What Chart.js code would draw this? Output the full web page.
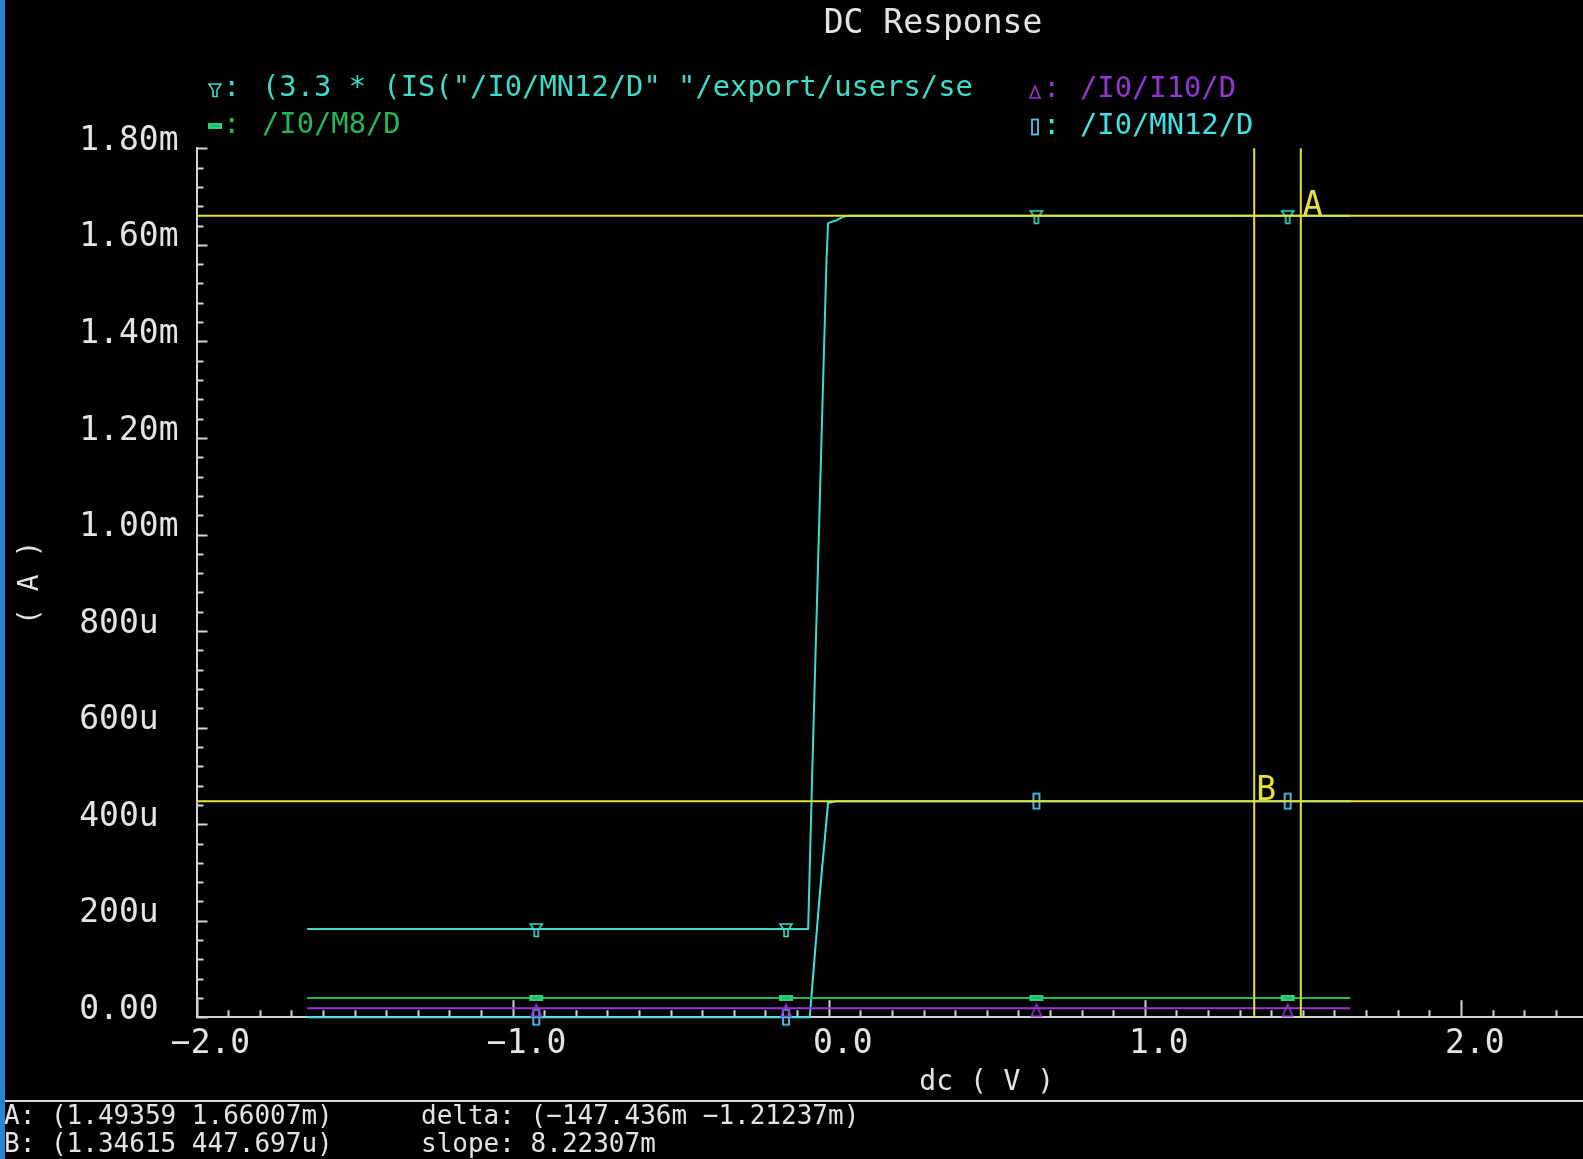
<!DOCTYPE html>
<html>
<head>
<meta charset="utf-8">
<title>DC Response</title>
<script src="https://cdn.jsdelivr.net/npm/chart.js@4.4.1/dist/chart.umd.min.js"></script>
<style>
  html, body { margin: 0; padding: 0; background: #000; overflow: hidden; }
  #frame { position: relative; width: 1583px; height: 1159px; overflow: hidden; background: #000; }
  #frame::before { content: ''; position: absolute; left: 0; top: 0; width: 5px; height: 100%; background: #2f7fd8; z-index: 2; }
  #plot { position: absolute; left: 0; top: 0; }
</style>
</head>
<body>
<div id="frame"><canvas id="plot" width="1777" height="1159"></canvas></div>
<script>
// ---- sweep (V) and drain currents (A) for each trace ----
const triX  = [-1.65, -0.925, -0.135, -0.065, -0.051, -0.007, -0.002, 0.025, 0.045, 0.06, 0.657, 1.452, 1.65];
const triY  = [0.000183, 0.000183, 0.000183, 0.000183, 0.000533, 0.001568, 0.001645, 0.001651, 0.001658, 0.00166007, 0.00166007, 0.00166007, 0.00166007];
const m8X   = [-1.65, -0.925, -0.135, 0.657, 1.452, 1.65];
const m8Y   = [0.0000400, 0.0000400, 0.0000400, 0.0000400, 0.0000400, 0.0000400];
const i10X  = [-1.65, -0.925, -0.135, 0.657, 1.452, 1.65];
const i10Y  = [0.0000186, 0.0000186, 0.0000186, 0.0000186, 0.0000186, 0.0000186];
const mn12X = [-1.65, -0.925, -0.135, -0.06, -0.041, -0.028, -0.002, 0.025, 0.657, 1.452, 1.65];
const mn12Y = [0, 0, 0, 0, 0.000153, 0.000257, 0.000444, 0.000447697, 0.000447697, 0.000447697, 0.000447697];

// sweep points that carry a trace symbol
const markerX = [-0.925, -0.135, 0.657, 1.452];

// axis ticks
const xTickValues = [-2, -1, 0, 1, 2];
const xTickLabels = ['\u22122.0', '\u22121.0', '0.0', '1.0', '2.0'];
const yTickValues = [0, 0.0002, 0.0004, 0.0006, 0.0008, 0.0010, 0.0012, 0.0014, 0.0016, 0.0018];
const yTickLabels = ['0.00', '200u', '400u', '600u', '800u', '1.00m', '1.20m', '1.40m', '1.60m', '1.80m'];

// cursors [x (V), y (A)]
const cursorA = [1.49359, 0.00166007];
const cursorB = [1.34615, 0.000447697];
const readoutLeft  = ['A: (1.49359 1.66007m)', 'B: (1.34615 447.697u)'];
const readoutRight = ['delta: (\u2212147.436m \u22121.21237m)', 'slope: 8.22307m'];

const traceLabels = [
  '(3.3 * (IS("/I0/MN12/D" "/export/users/se',
  '/I0/M8/D',
  '/I0/I10/D',
  '/I0/MN12/D'
];

// ---- styling ----
const FONT = "'DejaVu Sans Mono', monospace";
const C_TRI = '#3cdcc8';
const C_M8 = '#22b85a';
const C_I10 = '#9636d2';
const C_MN12 = '#40e2e2';
const C_CURSOR = '#e2e23a';
const C_AXIS = '#d4d4d4';
const C_TEXT = '#e4e4e4';

function glyph(w, h, paint) {
  const c = document.createElement('canvas');
  c.width = w; c.height = h;
  const g = c.getContext('2d');
  g.translate(w / 2, h / 2);
  paint(g);
  return c;
}
const symTri = glyph(18, 20, g => {
  g.strokeStyle = C_TRI; g.lineWidth = 1.6;
  g.beginPath();
  g.moveTo(-6, -5); g.lineTo(6, -5); g.lineTo(2, 1); g.lineTo(2, 7.5);
  g.lineTo(-2, 7.5); g.lineTo(-2, 1); g.closePath(); g.stroke();
});
const symM8 = glyph(18, 10, g => {
  g.fillStyle = '#2ccf78';
  g.fillRect(-7, -3, 14, 6);
  g.fillStyle = '#1a9e55';
  g.fillRect(-4, -0.5, 8, 1);
});
const symI10 = glyph(16, 22, g => {
  g.strokeStyle = C_I10; g.lineWidth = 1.6;
  g.beginPath();
  g.moveTo(0, -4); g.lineTo(5, 8); g.lineTo(-5, 8); g.closePath(); g.stroke();
});
const symMN12 = glyph(12, 20, g => {
  g.strokeStyle = '#58c4f4'; g.lineWidth = 1.8;
  g.strokeRect(-3, -7.5, 6, 15);
});

const pairs = (xs, ys) => xs.map((x, i) => ({ x, y: ys[i] }));
const markerRadius = ctx => (ctx.raw && markerX.includes(ctx.raw.x)) ? 5 : 0;

function trace(label, xs, ys, color, sym) {
  return {
    label, data: pairs(xs, ys),
    borderColor: color, backgroundColor: color, borderWidth: 2,
    tension: 0, fill: false, clip: false,
    pointStyle: sym, pointRadius: markerRadius, pointHoverRadius: 0
  };
}

// tick marks drawn inward from both axes
const axisMarks = {
  id: 'axisMarks',
  beforeDatasetsDraw(chart) {
    const { ctx, chartArea: a, scales: { x, y } } = chart;
    ctx.save();
    ctx.strokeStyle = C_AXIS; ctx.lineWidth = 2;
    ctx.beginPath();
    for (let k = 0; k <= 45; k++) {
      const py = Math.round(y.getPixelForValue(k * 0.00004)) + 0.5;
      const len = k % 5 === 0 ? 11 : 7;
      ctx.moveTo(a.left, py); ctx.lineTo(a.left + len, py);
    }
    for (let k = -20; k <= 30; k++) {
      const px = Math.round(x.getPixelForValue(k / 10)) + 0.5;
      const len = k % 10 === 0 ? 17 : 7;
      ctx.moveTo(px, a.bottom); ctx.lineTo(px, a.bottom - len);
    }
    ctx.stroke();
    ctx.restore();
  }
};

// A / B cursors
const cursorLines = {
  id: 'cursorLines',
  afterDatasetsDraw(chart) {
    const { ctx, chartArea: a, scales: { x, y } } = chart;
    ctx.save();
    ctx.strokeStyle = C_CURSOR; ctx.lineWidth = 2;
    ctx.fillStyle = C_CURSOR;
    ctx.font = '33px ' + FONT;
    ctx.textAlign = 'left'; ctx.textBaseline = 'alphabetic';
    [[cursorA, 'A'], [cursorB, 'B']].forEach(([c, name]) => {
      const px = x.getPixelForValue(c[0]);
      const py = y.getPixelForValue(c[1]);
      ctx.beginPath();
      ctx.moveTo(px, a.top); ctx.lineTo(px, a.bottom);
      ctx.moveTo(a.left, py); ctx.lineTo(a.right, py);
      ctx.stroke();
      ctx.fillText(name, px + 2, py - 1);
    });
    ctx.restore();
  }
};

// heading, trace key and cursor readout
const sheetText = {
  id: 'sheetText',
  afterDraw(chart) {
    const { ctx } = chart;
    const ds = chart.data.datasets;
    ctx.save();
    ctx.fillStyle = C_TEXT;
    ctx.font = '33px ' + FONT;
    ctx.textAlign = 'center'; ctx.textBaseline = 'middle';
    ctx.fillText('DC Response', 933, 24);

    const slots = [[0, 215, 89, 262], [1, 215, 126, 262], [2, 1035, 90, 1080], [3, 1035, 127, 1080]];
    ctx.font = '28.8px ' + FONT;
    ctx.textAlign = 'left';
    slots.forEach(([i, gx, gy, tx]) => {
      const sym = ds[i].pointStyle;
      ctx.drawImage(sym, gx - sym.width / 2, gy - sym.height / 2);
      ctx.fillStyle = ds[i].borderColor;
      ctx.fillText(':', gx + 8, gy);
      ctx.fillText(ds[i].label, tx, gy);
    });

    ctx.strokeStyle = '#d8d8d8'; ctx.lineWidth = 2;
    ctx.beginPath(); ctx.moveTo(5, 1101); ctx.lineTo(1583, 1101); ctx.stroke();
    ctx.fillStyle = C_TEXT;
    ctx.font = '26px ' + FONT;
    ctx.fillText(readoutLeft[0], 4, 1117);
    ctx.fillText(readoutLeft[1], 4, 1145);
    ctx.fillText(readoutRight[0], 421, 1117);
    ctx.fillText(readoutRight[1], 421, 1145);
    ctx.restore();
  }
};

Chart.defaults.font.family = FONT;

new Chart(document.getElementById('plot'), {
  type: 'line',
  data: {
    datasets: [
      trace(traceLabels[0], triX, triY, C_TRI, symTri),
      trace(traceLabels[1], m8X, m8Y, C_M8, symM8),
      trace(traceLabels[2], i10X, i10Y, C_I10, symI10),
      trace(traceLabels[3], mn12X, mn12Y, C_MN12, symMN12)
    ]
  },
  options: {
    responsive: false,
    animation: false,
    events: [],
    layout: { padding: { top: 148.3, left: 0, right: 0, bottom: 0 } },
    plugins: {
      legend: { display: false },
      title: { display: false },
      tooltip: { enabled: false }
    },
    scales: {
      x: {
        type: 'linear', min: -2, max: 3,
        grid: { display: false },
        border: { display: true, color: C_AXIS, width: 2 },
        afterFit: s => { s.height = 141.7; },
        afterBuildTicks: s => { s.ticks = xTickValues.map(v => ({ value: v })); },
        ticks: {
          color: C_TEXT, font: { size: 33 }, padding: -1, labelOffset: 14,
          maxRotation: 0, autoSkip: false,
          callback: (v, i) => xTickLabels[i]
        },
        title: {
          display: true, text: 'dc ( V )', color: C_TEXT,
          font: { size: 28 }, padding: { top: 0, bottom: 59 }
        }
      },
      y: {
        type: 'linear', min: 0, max: 0.0018,
        grid: { display: false },
        border: { display: true, color: C_AXIS, width: 2 },
        afterFit: s => { s.width = 196.5; },
        afterBuildTicks: s => { s.ticks = yTickValues.map(v => ({ value: v })); },
        ticks: {
          color: C_TEXT, font: { size: 33 }, padding: 10, labelOffset: -7,
          autoSkip: false,
          callback: (v, i) => yTickLabels[i].padEnd(5)
        },
        title: {
          display: true, text: '( A )', color: C_TEXT,
          font: { size: 28 }, padding: { top: 14, bottom: 0 }
        }
      }
    }
  },
  plugins: [axisMarks, cursorLines, sheetText]
});
</script>
</body>
</html>
